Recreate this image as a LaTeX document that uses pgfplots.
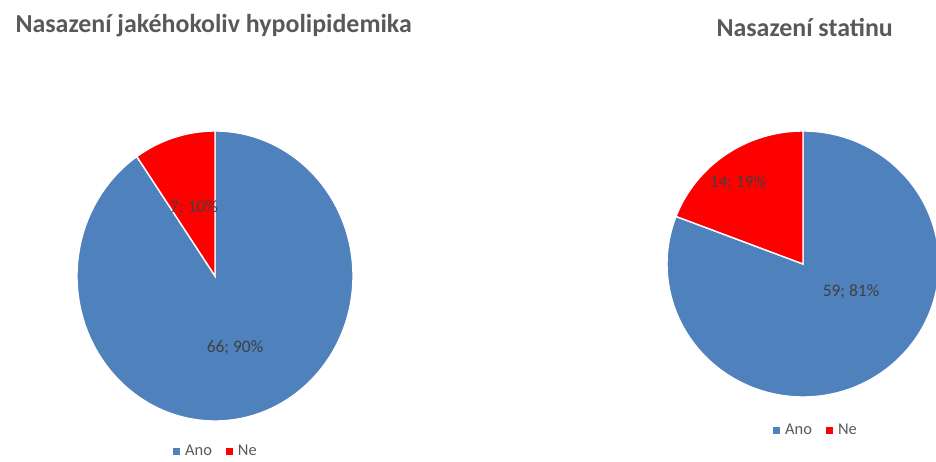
\documentclass[border=0pt]{standalone}
\usepackage{pgfplots}
\pgfplotsset{compat=1.18}
\usepackage{pgfplotstable}
\usepackage{fontspec}
\setmainfont{Carlito}

\definecolor{ano}{HTML}{4F81BD}
\definecolor{ne}{HTML}{FF0000}
\definecolor{titlegray}{HTML}{595959}
\definecolor{labelgray}{HTML}{404040}

% counts of patients, answer Ano / Ne
\pgfplotstableread{
answer count
Ano 66
Ne 7
}\anyLipid
\pgfplotstableread{
answer count
Ano 59
Ne 14
}\statin

% slice angles (pie starts at 12 o'clock, Ano runs clockwise)
\newcommand{\sliceangles}[2]{%
  \pgfplotstablegetelem{0}{count}\of{#1}\let\va\pgfplotsretval
  \pgfplotstablegetelem{1}{count}\of{#1}\let\vb\pgfplotsretval
  \pgfmathsetmacro#2{360*\vb/(\va+\vb)}%
}

\pgfplotsset{
  piecanvas/.style={
    width=936bp, height=462bp, scale only axis,
    xmin=0, xmax=936, ymin=0, ymax=462,
    hide axis, clip=false,
    legend columns=2,
    legend style={draw=none, fill=none, anchor=center,
      font=\fontsize{16.5}{18}\selectfont, text=titlegray,
      /tikz/every even column/.append style={column sep=12bp}},
  },
}
\tikzset{
  slice/.style={draw=white, line width=1.4bp},
  pielabel/.style={font=\fontsize{17.5}{20}\selectfont, text=labelgray},
  pietitle/.style={font=\bfseries\fontsize{26}{30}\selectfont, text=titlegray, anchor=base west},
}

\newcommand{\legendsquare}[1]{%
  \addlegendimage{legend image code/.code={%
    \fill[#1, draw=none] (0bp,-3.5bp) rectangle (7bp,3.5bp);
    \path[draw=none, fill=none] (0bp,0bp) -- (10bp,0bp);}}}

\begin{document}
\begin{tikzpicture}
\sliceangles{\anyLipid}{\neAnyLipid}
\sliceangles{\statin}{\neStatin}

% Nasazení jakéhokoliv hypolipidemika
\begin{axis}[piecanvas, legend style={at={(216/936,11/462)}}]
  \legendsquare{ano}
  \legendsquare{ne}
  \legend{Ano, Ne}
  \fill[ano, slice] (axis cs:215,186) -- ++(0,145bp)
    arc[start angle=90, end angle=90+\neAnyLipid-360, x radius=138bp, y radius=145bp] -- cycle;
  \fill[ne, slice] (axis cs:215,186) -- ++(0,145bp)
    arc[start angle=90, end angle=90+\neAnyLipid, x radius=138bp, y radius=145bp] -- cycle;
  \node[pielabel] at (axis cs:194,254) {7; 10\%};
  \node[pielabel] at (axis cs:235,114) {66; 90\%};
  \node[pietitle] at (axis cs:12,429) {Nasazení jakéhokoliv hypolipidemika};
\end{axis}

% Nasazení statinu
\begin{axis}[piecanvas, legend style={at={(816/936,32/462)}}]
  \legendsquare{ano}
  \legendsquare{ne}
  \legend{Ano, Ne}
  \fill[ano, slice] (axis cs:803,198) -- ++(0,133bp)
    arc[start angle=90, end angle=90+\neStatin-360, x radius=136bp, y radius=133bp] -- cycle;
  \fill[ne, slice] (axis cs:803,198) -- ++(0,133bp)
    arc[start angle=90, end angle=90+\neStatin, x radius=136bp, y radius=133bp] -- cycle;
  \node[pielabel] at (axis cs:738,279) {14; 19\%};
  \node[pielabel] at (axis cs:851,170) {59; 81\%};
  \node[pietitle] at (axis cs:713,425) {Nasazení statinu};
\end{axis}

\pgfresetboundingbox
\path[use as bounding box] (0,0) rectangle (936bp,462bp);
\end{tikzpicture}
\end{document}
